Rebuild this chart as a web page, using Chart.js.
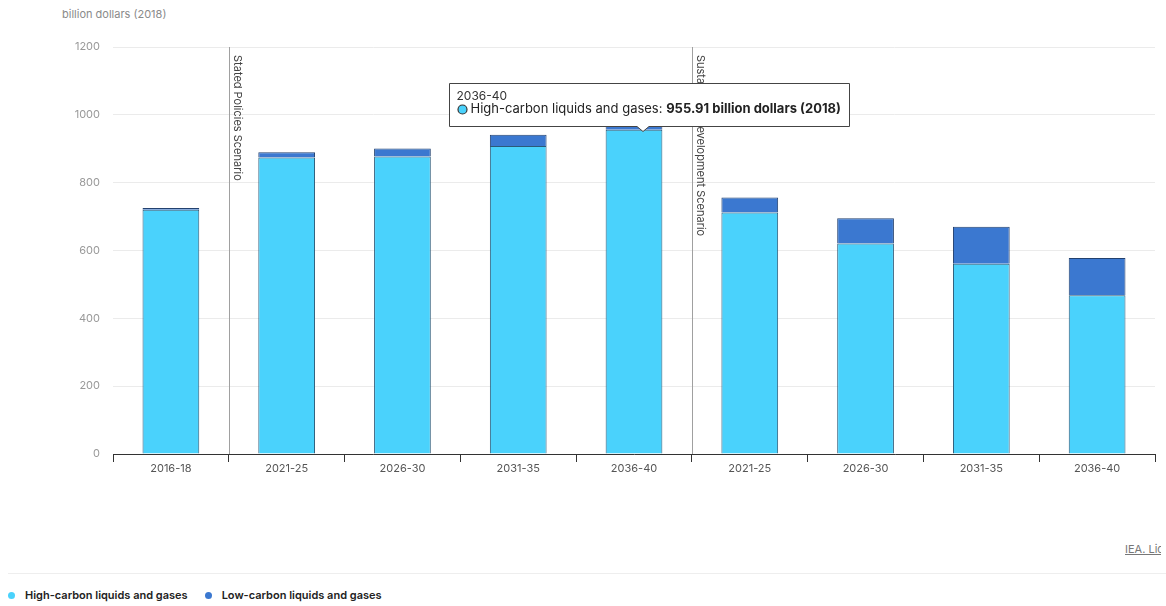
<!DOCTYPE html>
<html>
<head>
<meta charset="utf-8">
<script src="https://cdn.jsdelivr.net/npm/chart.js@4.4.1/dist/chart.umd.min.js"></script>
<style>
  html, body { margin: 0; padding: 0; background: #fff; overflow: hidden; }
  body { width: 1166px; height: 606px; position: relative; font-family: 'Inter', sans-serif; }
  #unit { position: absolute; left: 62px; top: 7px; font-size: 11px; color: #8a8a8a; }
  #wrap { position: absolute; left: 0; top: 0; width: 1166px; height: 500px; }
  #source { position: absolute; left: 1125px; top: 542px; width: 36px; overflow: hidden;
            font-size: 11px; color: #777; text-decoration: underline; white-space: nowrap; }
  #rule { position: absolute; left: 8px; right: 0; top: 573px; border-top: 1px solid #eee; }
  #legend { position: absolute; left: 8px; top: 588px; display: flex; gap: 17px;
            font-size: 11px; font-weight: 600; color: #222; }
  #legend span { display: inline-flex; align-items: center; }
  #legend i { display: inline-block; width: 7px; height: 7px; border-radius: 50%; margin-right: 10px; }
</style>
</head>
<body>
<div id="unit">billion dollars (2018)</div>
<div id="wrap"><canvas id="chart"></canvas></div>
<div id="source">IEA. Licence: CC BY 4.0</div>
<div id="rule"></div>
<div id="legend"></div>
<script>
// ── Data ───────────────────────────────────────────────────────
const categories = ['2016-18', '2021-25', '2026-30', '2031-35', '2036-40',
                    '2021-25', '2026-30', '2031-35', '2036-40'];
const highCarbon = [720, 874, 877, 908, 955.91, 712, 621, 561, 468];
const lowCarbon  = [5, 16, 24, 33, 36, 44, 74, 109, 110];
const seriesNames = ['High-carbon liquids and gases', 'Low-carbon liquids and gases'];
const seriesColors = ['#4ad2fc', '#3b78d0'];
const scenarioNames = ['Stated Policies Scenario', 'Sustainable Development Scenario'];
const scenarioStart = [1, 5];   // first category index of each scenario
const unitLabel = 'billion dollars (2018)';
const highlightIndex = 4;       // bar shown with the hover box

// ── Legend ─────────────────────────────────────────────────────
document.getElementById('legend').innerHTML = seriesNames
  .map((n, i) => `<span><i style="background:${seriesColors[i]}"></i>${n}</span>`)
  .join('');

// ── Scenario divider lines + rotated labels ────────────────────
const scenarioLines = {
  id: 'scenario-lines',
  beforeDatasetsDraw(chart) {
    const { ctx, chartArea: { top, bottom }, scales: { x } } = chart;
    ctx.save();
    scenarioStart.forEach((idx, i) => {
      const px = Math.round((x.getPixelForValue(idx - 1) + x.getPixelForValue(idx)) / 2) + 0.5;
      ctx.strokeStyle = '#a0a0a0';
      ctx.lineWidth = 1;
      ctx.beginPath();
      ctx.moveTo(px, top);
      ctx.lineTo(px, bottom);
      ctx.stroke();

      ctx.save();
      ctx.translate(px + 2, top + 8);
      ctx.rotate(Math.PI / 2);
      ctx.fillStyle = '#444';
      ctx.font = "11px 'Inter', sans-serif";
      ctx.textAlign = 'left';
      ctx.textBaseline = 'bottom';
      ctx.fillText(scenarioNames[i], 0, 0);
      ctx.restore();
    });
    ctx.restore();
  }
};

// ── Hover box over the highlighted bar ─────────────────────────
const hoverBox = {
  id: 'hover-box',
  afterDraw(chart) {
    const { ctx, scales: { x, y } } = chart;
    const caretX = x.getPixelForValue(highlightIndex) + 9;
    const caretY = y.getPixelForValue(highCarbon[highlightIndex]);

    const title = categories[highlightIndex];
    const lead = seriesNames[0] + ': ';
    const value = highCarbon[highlightIndex].toFixed(2) + ' ' + unitLabel;

    ctx.save();
    ctx.font = "13px 'Inter', sans-serif";
    const leadW = ctx.measureText(lead).width;
    ctx.font = "bold 13px 'Inter', sans-serif";
    const valueW = ctx.measureText(value).width;

    const w = Math.round(21 + leadW + valueW + 9);
    const h = 43;
    const left = Math.round(caretX - 194) + 0.5;
    const top = Math.round(caretY - 4 - h) + 0.5;

    // box with caret
    ctx.beginPath();
    ctx.moveTo(left, top);
    ctx.lineTo(left + w, top);
    ctx.lineTo(left + w, top + h);
    ctx.lineTo(caretX + 6, top + h);
    ctx.lineTo(caretX, top + h + 5);
    ctx.lineTo(caretX - 6, top + h);
    ctx.lineTo(left, top + h);
    ctx.closePath();
    ctx.fillStyle = '#fff';
    ctx.fill();
    ctx.strokeStyle = '#444';
    ctx.lineWidth = 1;
    ctx.stroke();

    ctx.textBaseline = 'middle';
    ctx.textAlign = 'left';
    ctx.fillStyle = '#333';
    ctx.font = "12px 'Inter', sans-serif";
    ctx.fillText(title, left + 7, top + 13);

    // series marker
    ctx.beginPath();
    ctx.arc(left + 13, top + 26, 4.5, 0, Math.PI * 2);
    ctx.fillStyle = seriesColors[0];
    ctx.fill();
    ctx.strokeStyle = '#333';
    ctx.lineWidth = 1.2;
    ctx.stroke();

    ctx.fillStyle = '#222';
    ctx.font = "13px 'Inter', sans-serif";
    ctx.fillText(lead, left + 21, top + 26);
    ctx.font = "bold 13px 'Inter', sans-serif";
    ctx.fillText(value, left + 21 + leadW, top + 26);
    ctx.restore();
  }
};

new Chart(document.getElementById('chart'), {
  type: 'bar',
  data: {
    labels: categories,
    datasets: [
      {
        label: seriesNames[0],
        data: highCarbon,
        backgroundColor: seriesColors[0],
        borderColor: '#2b5a78',
        borderWidth: 1,
        borderSkipped: 'bottom',
      },
      {
        label: seriesNames[1],
        data: lowCarbon,
        backgroundColor: seriesColors[1],
        borderColor: '#23416f',
        borderWidth: 1,
        borderSkipped: 'bottom',
      }
    ]
  },
  options: {
    responsive: true,
    maintainAspectRatio: false,
    animation: false,
    layout: { padding: { top: 47, right: 11, left: 0, bottom: 0 } },
    datasets: { bar: { categoryPercentage: 1, barPercentage: 0.49 } },
    plugins: { legend: { display: false }, tooltip: { enabled: false } },
    scales: {
      x: {
        stacked: true,
        afterFit: s => { s.height = 46; },
        grid: { drawOnChartArea: false, drawTicks: true, tickLength: 8, tickColor: '#333', offset: true },
        border: { display: true, color: '#333', width: 1 },
        ticks: { color: '#555', font: { family: "'Inter', sans-serif", size: 11 }, padding: 0, autoSkip: false, maxRotation: 0 }
      },
      y: {
        stacked: true,
        min: 0, max: 1200,
        afterFit: s => { s.width = 113; },
        grid: { color: '#ebebeb', drawTicks: false },
        border: { display: false },
        ticks: { stepSize: 200, color: '#999', font: { family: "'Inter', sans-serif", size: 11 }, padding: 13,
                 callback: v => String(v) }
      }
    }
  },
  plugins: [scenarioLines, hoverBox]
});
</script>
</body>
</html>
